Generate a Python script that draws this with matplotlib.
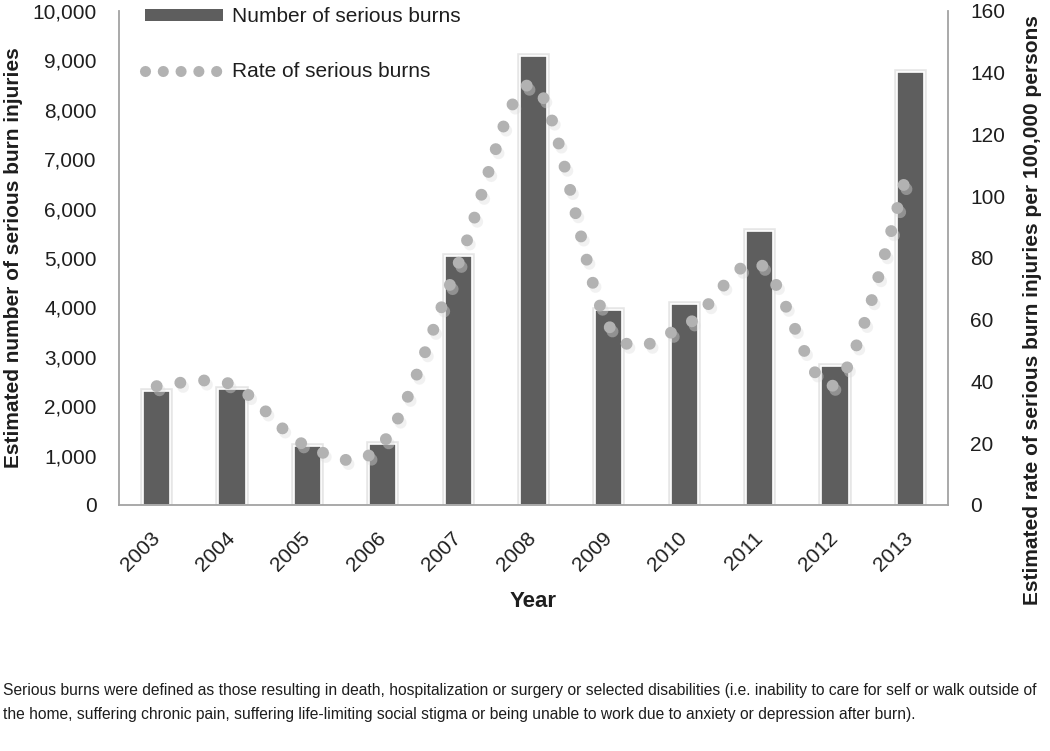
import matplotlib
matplotlib.use("Agg")
import matplotlib.pyplot as plt
import numpy as np
from matplotlib import font_manager
from matplotlib.path import Path
from matplotlib.patches import PathPatch, Patch
from matplotlib.lines import Line2D
from matplotlib.ticker import FuncFormatter, MultipleLocator
import matplotlib.patheffects as pe

# data
years = ["2003", "2004", "2005", "2006", "2007", "2008", "2009", "2010", "2011", "2012", "2013"]
burn_counts = [2300, 2350, 1200, 1240, 5050, 9080, 3950, 4070, 5550, 2815, 8760]
burn_rates = [38.5, 39, 19, 20, 78, 136, 58, 58, 78, 39, 111]

footnote_1 = ("Serious burns were defined as those resulting in death, hospitalization or surgery or "
              "selected disabilities (i.e. inability to care for self or walk outside of")
footnote_2 = ("the home, suffering chronic pain, suffering life-limiting social stigma or being unable "
              "to work due to anxiety or depression after burn).")

bar_color = "#5e5e5e"
dot_color = "#b2b2b2"
axis_color = "#a3a3a3"
text_color = "#1e1e1e"

names = {f.name for f in font_manager.fontManager.ttflist}
base_font = "Liberation Sans" if "Liberation Sans" in names else "DejaVu Sans"
narrow_font = "Liberation Sans Narrow" if "Liberation Sans Narrow" in names else base_font
plt.rcParams["font.family"] = [base_font, "DejaVu Sans"]

fig = plt.figure(figsize=(10.5, 7.51), dpi=100)
ax = fig.add_axes([119 / 1050, 1 - 505 / 751, (948 - 119) / 1050, (505 - 11) / 751])
ax2 = ax.twinx()

x = np.arange(len(years))

# bars with a light halo like the original
ax.bar(x, burn_counts, width=0.36, color=bar_color, edgecolor="white", linewidth=1.2,
       zorder=2,
       path_effects=[pe.Stroke(linewidth=4, foreground="#e6e6e6"), pe.Normal()])

# smoothed rate line (excel style bezier through the yearly points)
pts = np.column_stack([x, burn_rates]).astype(float)
n = len(pts)
verts = [pts[0]]
codes = [Path.MOVETO]
for i in range(n - 1):
    prev_p = pts[i - 1] if i > 0 else pts[i]
    next_p = pts[i + 2] if i + 2 < n else pts[i + 1]
    c1 = pts[i] + (pts[i + 1] - prev_p) / 6
    c2 = pts[i + 1] - (next_p - pts[i]) / 6
    verts += [c1, c2, pts[i + 1]]
    codes += [Path.CURVE4] * 3
curve = PathPatch(Path(verts, codes), fill=False, edgecolor=dot_color, linewidth=8.6,
                  linestyle=(0, (0.001, 2.0)), capstyle="round", zorder=3,
                  path_effects=[pe.SimpleLineShadow(offset=(2, -3), shadow_color="#dedede", alpha=0.4),
                                pe.Normal()])
ax2.add_patch(curve)

ax.set_xlim(-0.5, 10.5)
ax.set_ylim(0, 10000)
ax2.set_ylim(0, 160)
ax.yaxis.set_major_locator(MultipleLocator(1000))
ax2.yaxis.set_major_locator(MultipleLocator(20))
ax.yaxis.set_major_formatter(FuncFormatter(lambda v, p: f"{v:,.0f}"))

ax.set_xticks(x)
ax.set_xticklabels(years, rotation=45, ha="right", va="center", rotation_mode="anchor")
ax.tick_params(axis="x", length=0, pad=22, labelsize=15, labelcolor=text_color)
ax.tick_params(axis="y", length=0, pad=16, labelsize=15, labelcolor=text_color)
ax2.tick_params(axis="y", length=0, pad=16, labelsize=15, labelcolor=text_color)

for a in (ax, ax2):
    for s in a.spines.values():
        s.set_color(axis_color)
        s.set_linewidth(1.3)
    a.spines["top"].set_visible(False)
ax2.spines["left"].set_visible(False)
ax2.spines["bottom"].set_visible(False)
ax.spines["right"].set_visible(False)

ax.set_ylabel("Estimated number of serious burn injuries", fontsize=15, fontweight="bold",
              color=text_color)
ax.yaxis.set_label_coords(-0.116, 0.5)
ax2.set_ylabel("Estimated rate of serious burn injuries per 100,000 persons", fontsize=15,
               fontweight="bold", color=text_color, rotation=90)
ax2.yaxis.set_label_coords(1.0905, 0.395)
ax.set_xlabel("Year", fontsize=16, fontweight="bold", color=text_color, family=narrow_font)
ax.xaxis.set_label_coords(0.4994, -0.175)

# legend
handles = [Patch(facecolor=bar_color, edgecolor="none"),
           Line2D([0], [0], color=dot_color, linewidth=8, linestyle=(0, (0.001, 1.6)),
                  dash_capstyle="round")]
leg = ax.legend(handles, ["Number of serious burns", "Rate of serious burns"],
                loc="upper left", bbox_to_anchor=(145 / 1050, 1 - 7 / 751),
                bbox_transform=fig.transFigure, frameon=False, fontsize=15,
                handlelength=3.75, handleheight=0.5, handletextpad=0.45, labelspacing=1.75,
                borderpad=0, borderaxespad=0)
for t in leg.get_texts():
    t.set_color(text_color)

fig.text(3 / 1050, 1 - 690 / 751, footnote_1, fontsize=11.25, va="center", ha="left", color=text_color)
fig.text(3 / 1050, 1 - 714 / 751, footnote_2, fontsize=11.25, va="center", ha="left", color=text_color)

fig.savefig("out.png", dpi=100, facecolor="white")
